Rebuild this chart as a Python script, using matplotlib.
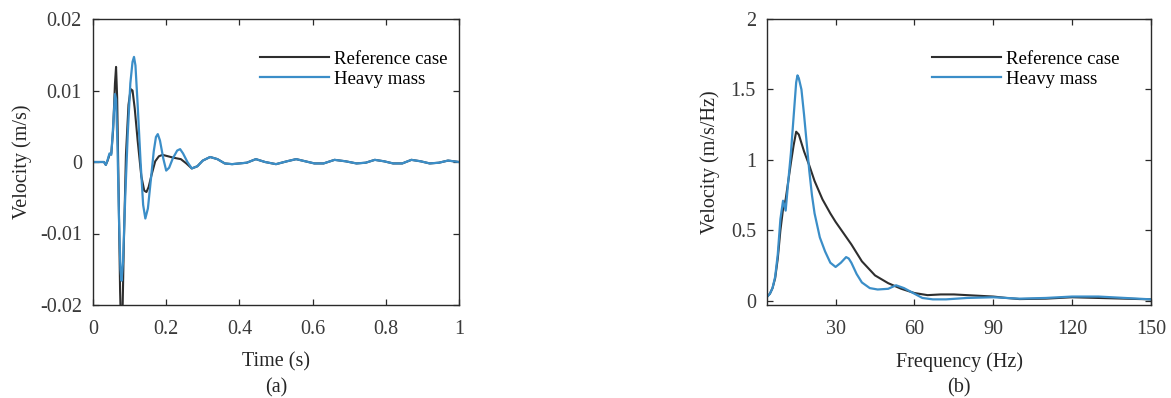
import matplotlib
matplotlib.use("Agg")
import matplotlib.pyplot as plt

plt.rcParams["font.family"] = ["Liberation Serif", "DejaVu Serif"]

# ---- (a) velocity time history ----
time_s = [0.000, 0.020, 0.030, 0.035, 0.040, 0.045, 0.050, 0.055, 0.060, 0.063,
          0.066, 0.070, 0.074, 0.077, 0.080, 0.084, 0.090, 0.097, 0.103, 0.108,
          0.114, 0.122, 0.132, 0.140, 0.146, 0.152, 0.160, 0.170, 0.180, 0.190,
          0.205, 0.220, 0.240, 0.255, 0.270, 0.285, 0.300, 0.320, 0.340, 0.360,
          0.380, 0.400, 0.420, 0.445, 0.470, 0.500, 0.530, 0.555, 0.580, 0.605,
          0.630, 0.660, 0.690, 0.720, 0.745, 0.770, 0.795, 0.820, 0.845, 0.870,
          0.895, 0.920, 0.945, 0.970, 1.000]
vel_reference = [0.0, 0.0, 0.0, -0.0004, 0.0002, 0.0010, 0.0012, 0.0045, 0.0110, 0.0133,
                 0.0090, -0.0040, -0.0180, -0.0240, -0.0230, -0.0120, 0.0010, 0.0080, 0.0102, 0.0100,
                 0.0075, 0.0030, -0.0020, -0.0040, -0.0042, -0.0035, -0.0018, 0.0001, 0.0008, 0.0010,
                 0.0008, 0.0006, 0.0004, -0.0002, -0.0009, -0.0006, 0.0002, 0.0007, 0.0004, -0.0002,
                 -0.0003, -0.0002, -0.0001, 0.0004, 0.0000, -0.0003, 0.0001, 0.0004, 0.0001, -0.0002,
                 -0.0002, 0.0003, 0.0001, -0.0002, -0.0001, 0.0003, 0.0001, -0.0002, -0.0002, 0.0003,
                 0.0001, -0.0002, -0.0001, 0.0002, 0.0000]

time_heavy = [0.000, 0.030, 0.035, 0.040, 0.045, 0.050, 0.055, 0.060, 0.063, 0.067,
              0.071, 0.075, 0.078, 0.082, 0.088, 0.095, 0.102, 0.108, 0.112, 0.116,
              0.122, 0.130, 0.137, 0.143, 0.150, 0.158, 0.166, 0.172, 0.177, 0.183,
              0.192, 0.200, 0.208, 0.218, 0.230, 0.238, 0.246, 0.258, 0.270, 0.285,
              0.300, 0.320, 0.340, 0.360, 0.380, 0.400, 0.420, 0.445, 0.470, 0.500,
              0.530, 0.555, 0.580, 0.605, 0.630, 0.660, 0.690, 0.720, 0.745, 0.770,
              0.795, 0.820, 0.845, 0.870, 0.895, 0.920, 0.945, 0.970, 1.000]
vel_heavy = [0.0, 0.0, -0.0004, 0.0003, 0.0012, 0.0010, 0.0050, 0.0095, 0.0088, 0.0020,
             -0.0080, -0.0150, -0.0166, -0.0140, -0.0050, 0.0040, 0.0110, 0.0140, 0.0147, 0.0135,
             0.0080, 0.0000, -0.0060, -0.0079, -0.0065, -0.0025, 0.0015, 0.0035, 0.0039, 0.0030,
             0.0005, -0.0012, -0.0008, 0.0005, 0.0016, 0.0018, 0.0012, 0.0000, -0.0009, -0.0006,
             0.0002, 0.0007, 0.0004, -0.0002, -0.0003, -0.0002, -0.0001, 0.0004, 0.0000, -0.0003,
             0.0001, 0.0004, 0.0001, -0.0002, -0.0002, 0.0003, 0.0001, -0.0002, -0.0001, 0.0003,
             0.0001, -0.0002, -0.0002, 0.0003, 0.0001, -0.0002, -0.0001, 0.0002, 0.0000]

# ---- (b) velocity spectrum ----
freq_reference = [4, 5, 6, 7, 8, 9, 10, 11, 12, 13, 14, 15, 16, 17, 18, 20, 22, 25, 28, 30,
                  33, 36, 40, 45, 50, 55, 60, 65, 70, 75, 80, 85, 90, 95, 100, 110, 120, 130,
                  140, 150]
spec_reference = [0.03, 0.05, 0.09, 0.16, 0.30, 0.50, 0.65, 0.72, 0.85, 0.98, 1.10, 1.20, 1.18,
                  1.12, 1.06, 0.96, 0.85, 0.72, 0.62, 0.56, 0.48, 0.40, 0.28, 0.18, 0.125, 0.085,
                  0.055, 0.04, 0.045, 0.045, 0.04, 0.035, 0.03, 0.02, 0.012, 0.015, 0.025, 0.02,
                  0.015, 0.01]

freq_heavy = [4, 5, 6, 7, 8, 9, 10, 11, 12, 13, 14, 15, 15.5, 16, 17, 18, 19, 20, 21, 22,
              24, 26, 28, 30, 32, 34, 35, 36, 38, 40, 43, 46, 50, 53, 56, 60, 63, 67, 72,
              80, 90, 100, 110, 120, 130, 140, 150]
spec_heavy = [0.03, 0.05, 0.09, 0.17, 0.33, 0.58, 0.71, 0.64, 0.85, 1.05, 1.30, 1.55, 1.60,
              1.58, 1.50, 1.32, 1.12, 0.92, 0.75, 0.62, 0.45, 0.35, 0.27, 0.24, 0.27, 0.31,
              0.30, 0.27, 0.19, 0.13, 0.09, 0.08, 0.085, 0.11, 0.09, 0.05, 0.02, 0.01, 0.01,
              0.02, 0.025, 0.015, 0.02, 0.03, 0.03, 0.02, 0.01]

labels = ["Reference case", "Heavy mass"]
time_ticks = [0, 0.2, 0.4, 0.6, 0.8, 1]
time_ticklabels = ["0", "0.2", "0.4", "0.6", "0.8", "1"]
vel_ticks = [-0.02, -0.01, 0, 0.01, 0.02]
vel_ticklabels = ["-0.02", "-0.01", "0", "0.01", "0.02"]
freq_ticks = [30, 60, 90, 120, 150]
spec_ticks = [0, 0.5, 1, 1.5, 2]
spec_ticklabels = ["0", "0.5", "1", "1.5", "2"]

c_ref = "#2e2e2e"
c_heavy = "#3b8ec8"
axis_col = "#2a2a2a"
text_col = "#262626"

fig = plt.figure(figsize=(11.71, 3.98), dpi=100)
ax1 = fig.add_axes([93 / 1171, 93 / 398, 366 / 1171, 286 / 398])
ax2 = fig.add_axes([767 / 1171, 93 / 398, 384 / 1171, 286 / 398])


def style(ax):
    for s in ax.spines.values():
        s.set_color(axis_col)
        s.set_linewidth(1.0)
    ax.tick_params(direction="in", top=True, right=True, length=4, width=0.9,
                   colors=axis_col, labelcolor="#3a3a3a", labelsize=14.5)
    ax.tick_params(axis="x", pad=11)
    ax.tick_params(axis="y", pad=8)


ax1.plot(time_s, vel_reference, color=c_ref, lw=1.5, label=labels[0])
ax1.plot(time_heavy, vel_heavy, color=c_heavy, lw=1.6, label=labels[1])
ax1.set_xlim(0, 1)
ax1.set_ylim(-0.02, 0.02)
ax1.set_xticks(time_ticks)
ax1.set_xticklabels(time_ticklabels)
ax1.set_yticks(vel_ticks)
ax1.set_yticklabels(vel_ticklabels)
ax1.set_xlabel("Time (s)", fontsize=14.5, color=text_col, labelpad=9)
ax1.set_ylabel("Velocity (m/s)", fontsize=14.5, color=text_col, labelpad=6)
style(ax1)

ax2.plot(freq_reference, spec_reference, color=c_ref, lw=1.5, label=labels[0])
ax2.plot(freq_heavy, spec_heavy, color=c_heavy, lw=1.6, label=labels[1])
ax2.set_xlim(3.9, 150)
ax2.set_ylim(-0.03, 2)
ax2.set_xticks(freq_ticks)
ax2.set_yticks(spec_ticks)
ax2.set_yticklabels(spec_ticklabels)
ax2.set_xlabel("Frequency (Hz)", fontsize=14.5, color=text_col, labelpad=9)
ax2.set_ylabel("Velocity (m/s/Hz)", fontsize=14.5, color=text_col, labelpad=8)
style(ax2)

for ax, x0 in ((ax1, 0.456), (ax2, 0.43)):
    ax.legend(loc="upper left", bbox_to_anchor=(x0, 0.89), frameon=False,
              fontsize=13.5, handlelength=3.7, handletextpad=0.25,
              labelspacing=0.15, borderpad=0, borderaxespad=0)

fig.text(276 / 1171, 1 - 388 / 398, "(a)", ha="center", va="center",
         fontsize=14.5, color=text_col)
fig.text(959 / 1171, 1 - 388 / 398, "(b)", ha="center", va="center",
         fontsize=14.5, color=text_col)

fig.savefig("out.png", dpi=100, facecolor="white")
